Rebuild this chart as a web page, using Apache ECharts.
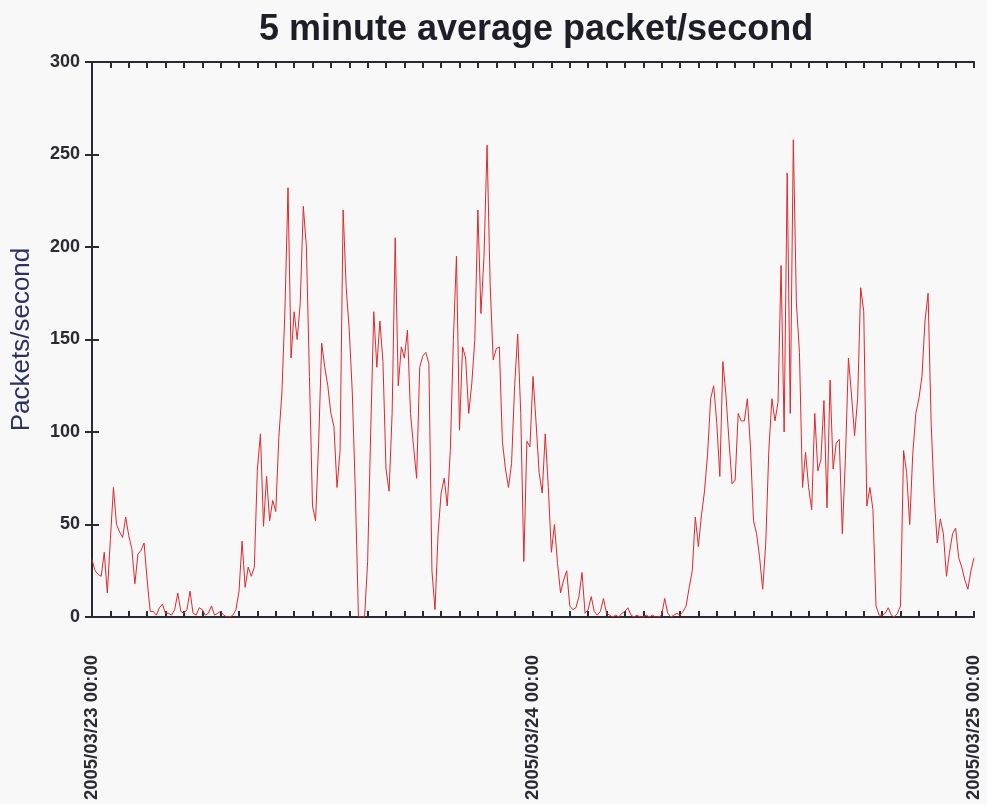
<!DOCTYPE html>
<html>
<head>
<meta charset="utf-8">
<script src="https://cdn.jsdelivr.net/npm/echarts@6/dist/echarts.min.js"></script>
<style>
html,body{margin:0;padding:0;background:#f8f8f8;}
#chart{width:987px;height:804px;}
</style>
</head>
<body>
<div id="chart"></div>
<script>
// 10-minute samples from 2005/03/23 00:00 to 2005/03/25 00:00 (x in hours)
var stepHours = 10 / 60;
var packetsPerSecond = [
  // day 1
  31, 25, 23, 22, 35, 13,
  42, 70, 50, 46, 43, 54,
  44, 37, 18, 34, 36, 40,
  20, 3, 3, 1, 5, 7,
  2, 2, 1, 4, 13, 3,
  2, 4, 14, 2, 1, 5,
  4, 1, 2, 6, 1, 2,
  3, 1, 0, 0, 1, 4,
  14, 41, 16, 27, 22, 27,
  80, 99, 49, 76, 52, 63,
  57, 97, 121, 166, 232, 140,
  165, 150, 170, 222, 200, 130,
  60, 52, 94, 148, 135, 125,
  110, 103, 70, 90, 220, 178,
  155, 121, 67, 0, 0, 0,
  30, 100, 165, 135, 160, 138,
  80, 68, 110, 205, 125, 146,
  140, 155, 110, 92, 75, 135,
  141, 143, 137, 25, 4, 45,
  67, 75, 60, 90, 150, 195,
  101, 146, 140, 110, 126, 150,
  220, 164, 195, 255, 180, 139,
  145, 146, 95, 80, 70, 83,
  125, 153, 110, 30, 95, 92,
  // day 2
  130, 105, 78, 67, 99, 70,
  35, 50, 29, 13, 20, 25,
  6, 4, 5, 11, 24, 2,
  4, 11, 3, 1, 3, 10,
  2, 1, 0, 1, 0, 2,
  3, 5, 1, 0, 1, 0,
  0, 1, 0, 1, 0, 0,
  1, 10, 2, 0, 1, 2,
  1, 3, 6, 16, 25, 54,
  38, 55, 68, 88, 118, 125,
  105, 76, 138, 120, 95, 72,
  74, 110, 106, 106, 118, 92,
  52, 45, 32, 15, 40, 90,
  118, 106, 116, 190, 100, 240,
  110, 258, 170, 143, 70, 89,
  70, 58, 110, 79, 85, 117,
  59, 128, 80, 94, 96, 45,
  85, 140, 120, 98, 118, 178,
  165, 60, 70, 58, 6, 1,
  1, 2, 5, 1, 0, 2,
  6, 90, 78, 50, 88, 110,
  118, 130, 160, 175, 105, 65,
  40, 53, 45, 22, 35, 45,
  48, 32, 27, 20, 15, 25,
  32
];
var xTickLabels = { 0: '2005/03/23 00:00', 24: '2005/03/24 00:00', 48: '2005/03/25 00:00' };
var yTicks = [0, 50, 100, 150, 200, 250, 300];
var titleText = '5 minute average packet/second';
var yAxisName = 'Packets/second';

var seriesData = packetsPerSecond.map(function (v, i) { return [i * stepHours, v]; });

var chart = echarts.init(document.getElementById('chart'), null, { renderer: 'canvas' });
var axisLineStyle = { color: '#2a2a33', width: 2 };
var tickStyle = { color: '#2a2a33', width: 2 };
chart.setOption({
  backgroundColor: '#f8f8f8',
  animation: false,
  title: {
    text: titleText,
    left: 531, top: 7, textAlign: 'center',
    textStyle: { fontFamily: 'Liberation Sans', fontWeight: 'bold', fontSize: 36, color: '#1e1e28' }
  },
  grid: { left: 92, right: 13, top: 62, bottom: 187, containLabel: false, outerBoundsMode: 'none' },
  xAxis: [{
    type: 'value', min: 0, max: 48, interval: 1, position: 'bottom',
    axisLine: { show: true, onZero: false, lineStyle: axisLineStyle },
    axisTick: { show: true, inside: true, length: 6, lineStyle: tickStyle },
    splitLine: { show: false },
    axisLabel: {
      rotate: 90, margin: 38, showMinLabel: true, showMaxLabel: true,
      fontFamily: 'Liberation Sans', fontWeight: 'bold', fontSize: 18.5, color: '#2a2a33',
      formatter: function (v) { return xTickLabels[v] || ''; }
    }
  }, {
    type: 'value', min: 0, max: 48, interval: 1, position: 'top',
    axisLine: { show: true, onZero: false, lineStyle: axisLineStyle },
    axisTick: { show: true, inside: true, length: 6, lineStyle: tickStyle },
    splitLine: { show: false }, axisLabel: { show: false }
  }],
  yAxis: [{
    type: 'value', min: yTicks[0], max: yTicks[yTicks.length - 1], interval: 50, position: 'left',
    name: yAxisName, nameLocation: 'middle', nameGap: 57,
    nameTextStyle: { fontFamily: 'Liberation Sans', fontSize: 26, color: '#2d3160' },
    axisLine: { show: true, lineStyle: axisLineStyle },
    axisTick: { show: true, inside: true, length: 7, lineStyle: tickStyle },
    splitLine: { show: false },
    axisLabel: { margin: 12, fontFamily: 'Liberation Sans', fontWeight: 'bold', fontSize: 18, color: '#2a2a33' }
  }, {
    type: 'value', min: yTicks[0], max: yTicks[yTicks.length - 1], interval: 50, position: 'right',
    axisLine: { show: true, lineStyle: axisLineStyle },
    axisTick: { show: true, inside: true, length: 7, lineStyle: tickStyle },
    splitLine: { show: false }, axisLabel: { show: false }
  }],
  series: [{
    type: 'line', xAxisIndex: 0, yAxisIndex: 0,
    data: seriesData, showSymbol: false, symbol: 'none',
    lineStyle: { color: '#e0282c', width: 1 },
    itemStyle: { color: '#e0282c' }
  }]
});
</script>
</body>
</html>
